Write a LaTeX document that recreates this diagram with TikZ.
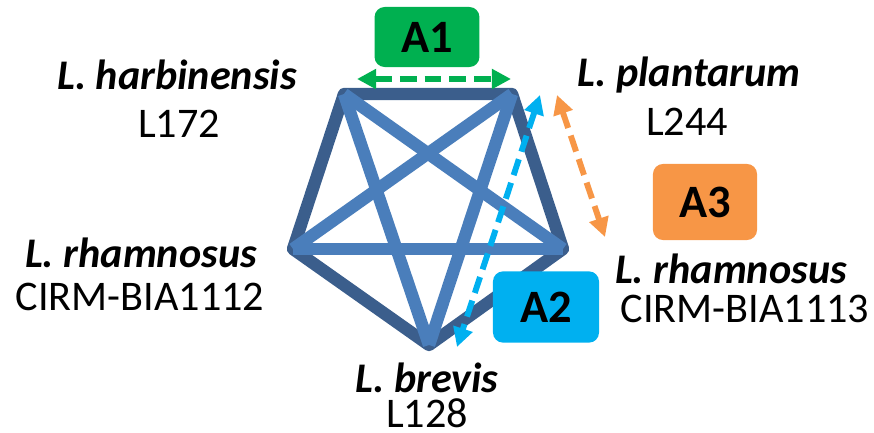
\documentclass[tikz,border=0pt]{standalone}
\usepackage{fontspec}
\setmainfont{Carlito}
\usetikzlibrary{arrows.meta}
\definecolor{edgeblue}{RGB}{59,94,140}
\definecolor{starblue}{RGB}{74,126,187}
\definecolor{tagA1}{RGB}{0,176,80}
\definecolor{tagA2}{RGB}{0,176,240}
\definecolor{tagA3}{RGB}{247,150,70}

\begin{document}
\begin{tikzpicture}[x=0.025cm,y=-0.025cm]
	\tikzset{species/.style={font=\fontsize{30}{34}\selectfont\bfseries\itshape, anchor=base, inner sep=0pt},
		strain/.style={font=\fontsize{30}{34}\selectfont, anchor=base, inner sep=0pt},
		tag/.style={rounded corners=0.25cm, font=\fontsize{33}{36}\selectfont\bfseries, text=black},
		pair/.style={line width=4.2pt, dash pattern=on 0.42cm off 0.2cm, {Triangle[length=0.48cm,width=0.48cm]}-{Triangle[length=0.48cm,width=0.48cm]}}}
	\useasboundingbox (0,0) rectangle (874,433);

	% Corners of the pentagon
	\coordinate (harb) at (344,94);
	\coordinate (plan) at (512,94);
	\coordinate (rhaR) at (563,249);
	\coordinate (brev) at (429,345);
	\coordinate (rhaL) at (293,249);

	% Outer edges, then the star
	\draw[edgeblue, line width=8.8pt, line join=round] (harb) -- (plan) -- (rhaR) -- (brev) -- (rhaL) -- cycle;
	\draw[starblue, line width=8.8pt] (harb) -- (rhaR);
	\draw[starblue, line width=8.8pt] (harb) -- (brev);
	\draw[starblue, line width=8.8pt] (plan) -- (rhaL);
	\draw[starblue, line width=8.8pt] (plan) -- (brev);
	\draw[starblue, line width=8.8pt] (rhaL) -- (rhaR);

	% Strain labels
	\node[species] (harbName) at (177,90) {L. harbinensis};
	\node[strain] (harbId) at (179,138) {L172};
	\node[species] (planName) at (689,87) {L. plantarum};
	\node[strain] (planId) at (687,135) {L244};
	\node[species] (rhaLName) at (141,267) {L. rhamnosus};
	\node[strain] (rhaLId) at (140,310) {CIRM-BIA1112};
	\node[species] (rhaRName) at (731,283) {L. rhamnosus};
	\node[strain] (rhaRId) at (745,322) {CIRM-BIA1113};
	\node[species] (brevName) at (427,392) {L. brevis};
	\node[strain] (brevId) at (427,427) {L128};

	% Boxes
	\node[tag, fill=tagA1, minimum width=2.62cm, minimum height=1.5cm] (A1) at (427,37) {A1};
	\node[tag, fill=tagA2, minimum width=2.65cm, minimum height=1.78cm] (A2) at (546,307) {A2};
	\node[tag, fill=tagA3, minimum width=2.6cm, minimum height=1.9cm] (A3) at (705,202) {A3};

	% Pair arrows
	\coordinate (g1) at (357,79);
	\coordinate (g2) at (511,79);
	\coordinate (b1) at (540,95);
	\coordinate (b2) at (457,347);
	\coordinate (o1) at (557,95);
	\coordinate (o2) at (605,237);
	\draw[pair, tagA1] (g1) -- (g2);
	\draw[pair, tagA2] (b1) -- (b2);
	\draw[pair, tagA3] (o1) -- (o2);
\end{tikzpicture}
\end{document}
